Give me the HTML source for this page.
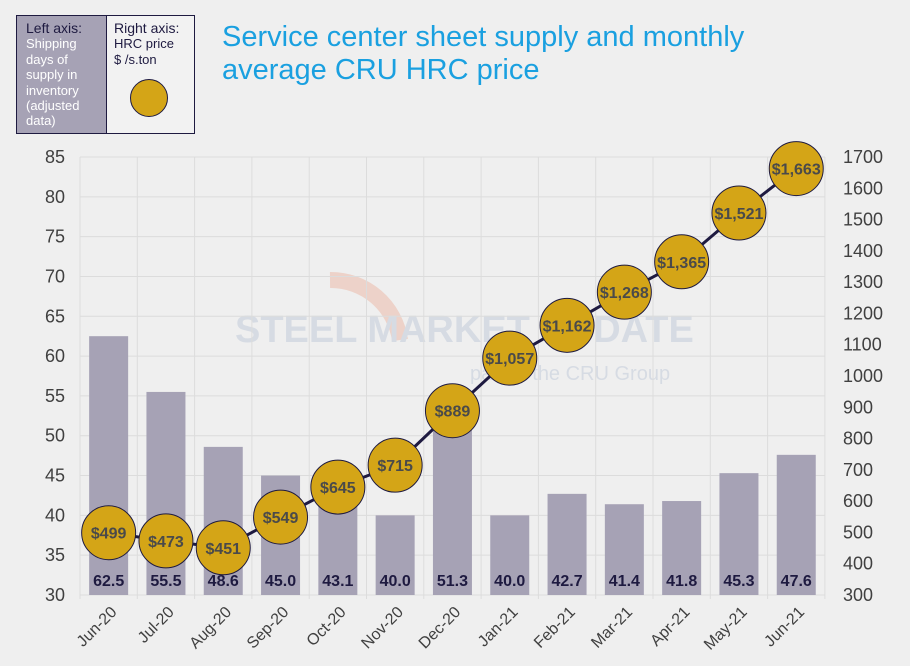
<!DOCTYPE html>
<html><head><meta charset="utf-8"><style>
body{margin:0;background:#efefef;width:910px;height:661px;overflow:hidden;font-family:"Liberation Sans",sans-serif}
</style></head><body>
<svg width="910" height="661" xmlns="http://www.w3.org/2000/svg" font-family="Liberation Sans, sans-serif">
<rect x="0" y="0" width="910" height="661" fill="#efefef"/>
<g>
<rect x="16.5" y="15.5" width="90" height="118" fill="#a6a2b5" stroke="#1e1a40"/>
<rect x="106.5" y="15.5" width="88" height="118" fill="#f2f2f2" stroke="#1e1a40"/>
<text x="26" y="33" font-size="14" fill="#1e1a40">Left axis:</text>
<g font-size="13" fill="#ffffff"><text x="26" y="48">Shipping</text><text x="26" y="64">days of</text><text x="26" y="79">supply in</text><text x="26" y="95">inventory</text><text x="26" y="110">(adjusted</text><text x="26" y="125">data)</text></g>
<text x="114" y="33" font-size="14" fill="#1e1a40">Right axis:</text>
<text x="114" y="48" font-size="13" fill="#1e1a40">HRC  price</text>
<text x="114" y="64" font-size="13" fill="#1e1a40">$ /s.ton</text>
<circle cx="149" cy="98" r="18.5" fill="#d4a517" stroke="#1e1a40"/>
</g>
<text x="222" y="46" font-size="29" fill="#1aa0e0">Service center sheet supply and monthly</text>
<text x="222" y="79" font-size="29" fill="#1aa0e0">average CRU HRC price</text>
<g opacity="0.25">
<path d="M330 280 A70 70 0 0 1 400 340" fill="none" stroke="#e8805a" stroke-width="16"/>
<text x="235" y="342" font-size="38" font-weight="bold" fill="#8fa3c2">STEEL MARKET UPDATE</text>
<text x="470" y="380" font-size="20" fill="#8fa3c2">part of the CRU Group</text>
</g>
<g id="grid"></g><g id="bars"></g><g id="line"></g><g id="axes"></g>
</svg>
<script>
const categories=["Jun-20","Jul-20","Aug-20","Sep-20","Oct-20","Nov-20","Dec-20","Jan-21","Feb-21","Mar-21","Apr-21","May-21","Jun-21"];
const daysSupply=[62.5,55.5,48.6,45.0,43.1,40.0,51.3,40.0,42.7,41.4,41.8,45.3,47.6];
const hrcPrice=[499,473,451,549,645,715,889,1057,1162,1268,1365,1521,1663];
const leftTicks=[30,35,40,45,50,55,60,65,70,75,80,85];
const rightTicks=[300,400,500,600,700,800,900,1000,1100,1200,1300,1400,1500,1600,1700];
const NS="http://www.w3.org/2000/svg";
const X0=80,STEP=57.3,YB=595,YT=157;
const xc=i=>X0+STEP*(i+0.5);
const yL=v=>YB-(v-30)/(85-30)*(YB-YT);
const yR=v=>YB-(v-300)/(1700-300)*(YB-YT);
function mk(tag,attrs,parent,txt){const e=document.createElementNS(NS,tag);for(const k in attrs)e.setAttribute(k,attrs[k]);if(txt!==undefined)e.textContent=txt;document.getElementById(parent).appendChild(e);return e;}
leftTicks.forEach(t=>{
 const g=mk('line',{x1:X0,x2:X0+STEP*13,y1:yL(t),y2:yL(t),stroke:'#dcdcdc','stroke-width':1},'grid');
 
 
 const l=mk('text',{x:65,y:yL(t)+6,'font-size':18,fill:'#404040','text-anchor':'end'},'axes',t);
 
 
});
for(let i=0;i<=13;i++){const v=mk('line',{x1:X0+STEP*i,x2:X0+STEP*i,y1:YT,y2:YB+4,stroke:'#dcdcdc'},'grid');
 
 }
rightTicks.forEach(t=>{
 const l=mk('text',{x:843,y:yR(t)+6,'font-size':18,fill:'#404040'},'axes',t);
 
 
});
categories.forEach((c,i)=>{
 const b=mk('rect',{x:xc(i)-19.5,y:yL(daysSupply[i]),width:39,height:YB-yL(daysSupply[i]),fill:'#a6a2b5'},'bars');
 
 
 const v=mk('text',{x:xc(i),y:586,'font-size':16,'font-weight':'bold',fill:'#1e1a40','text-anchor':'middle'},'bars',daysSupply[i].toFixed(1));
 
 
 const xl=mk('text',{x:xc(i)+9,y:613,'font-size':16,fill:'#404040','text-anchor':'end',transform:`rotate(-45 ${xc(i)+9} 613)`},'axes',c);
 
 
});
const pl=mk('polyline',{points:hrcPrice.map((p,i)=>xc(i)+','+yR(p)).join(' '),fill:'none',stroke:'#1e1a40','stroke-width':3},'line');


hrcPrice.forEach((p,i)=>{
 const c=mk('circle',{cx:xc(i),cy:yR(p),r:27,fill:'#d4a517',stroke:'#1e1a40','stroke-width':1},'line');
 
 
 const t=mk('text',{x:xc(i),y:yR(p)+6,'font-size':16,'font-weight':'bold',fill:'#4a4a4a','text-anchor':'middle'},'line','$'+p.toLocaleString('en-US'));
 
 
});
</script>
</body></html>
